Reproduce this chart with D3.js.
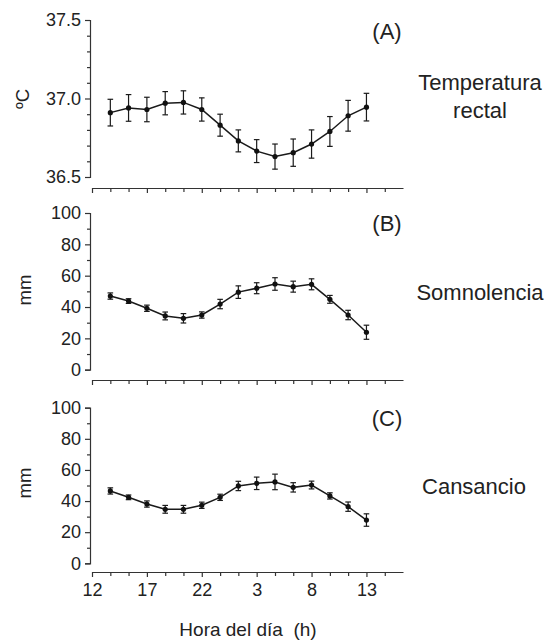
<!DOCTYPE html>
<html><head><meta charset="utf-8">
<script src="https://cdn.jsdelivr.net/npm/d3@7"></script>
<style>
body{margin:0;background:#fff;}
text{font-family:"Liberation Sans",Arial,sans-serif;fill:#222;}
</style></head>
<body><svg id="c" width="550" height="640"></svg>
<script>
// Data
const hours = [13.67, 15.33, 17, 18.67, 20.33, 22, 23.67, 25.33, 27, 28.67, 30.33, 32, 33.67, 35.33, 37];
const tempMean = [36.91, 36.94, 36.93, 36.97, 36.975, 36.93, 36.83, 36.73, 36.665, 36.63, 36.655, 36.71, 36.79, 36.89, 36.945];
const tempErr  = [0.085, 0.085, 0.078, 0.074, 0.074, 0.074, 0.07, 0.07, 0.073, 0.08, 0.087, 0.09, 0.095, 0.098, 0.088];
const somnMean = [47.0, 43.8, 39.2, 34.3, 32.8, 34.9, 41.9, 49.5, 52.0, 54.7, 53.0, 54.5, 44.9, 34.9, 23.9];
const somnErr  = [2, 1.5, 2, 2.5, 3, 2, 3, 4, 3.5, 4, 3.5, 3.5, 2.5, 3, 4.5];
const cansMean = [46.5, 42.4, 38.1, 34.7, 34.7, 37.3, 42.4, 49.7, 51.4, 52.3, 48.8, 50.3, 43.3, 36.4, 27.8];
const cansErr  = [2, 1.5, 2, 2.5, 2.5, 2, 2, 3, 4, 5, 3, 2.5, 2, 3, 4];
const xMajorTicks = [12, 17, 22, 27, 32, 37];
const xTickLabels = ["12", "17", "22", "3", "8", "13"];
const xMinorTicks = [13.67, 15.33, 18.67, 20.33, 23.67, 25.33, 28.67, 30.33, 33.67, 35.33, 38.67];
const xDomain = [12, 40.33];
const panelLabels = ["(A)", "(B)", "(C)"];
const panelTitles = [["Temperatura", "rectal"], ["Somnolencia"], ["Cansancio"]];
const yLabels = ["ºC", "mm", "mm"];
const tempTicks = [36.5, 37.0, 37.5];
const tempMinor = [36.6, 36.7, 36.8, 36.9, 37.1, 37.2, 37.3, 37.4];
const mmTicks = [0, 20, 40, 60, 80, 100];
const mmMinor = [10, 30, 50, 70, 90];

const svg = d3.select("#c");
const axisColor = "#333";
const x = d3.scaleLinear().domain(xDomain).range([92, 403]);

const panels = [
  {mean: tempMean, err: tempErr, domain: [36.5, 37.5], range: [177, 20], ticks: tempTicks, minor: tempMinor, fmt: d3.format(".1f"), xAxisY: 188, showX: false,
   lab: {y: 39}, titleY: [90, 118], ylabY: 99},
  {mean: somnMean, err: somnErr, domain: [0, 100], range: [369.7, 213], ticks: mmTicks, minor: mmMinor, fmt: d3.format("d"), xAxisY: 380, showX: false,
   lab: {y: 230.5}, titleY: [300], ylabY: 290},
  {mean: cansMean, err: cansErr, domain: [0, 100], range: [563.3, 407.7], ticks: mmTicks, minor: mmMinor, fmt: d3.format("d"), xAxisY: 572, showX: true,
   lab: {y: 426}, titleY: [494], ylabY: 483}
];

function styleAxis(g){
  g.select(".domain").attr("stroke", axisColor).attr("stroke-width", 1.2);
  g.selectAll(".tick line").attr("stroke", axisColor).attr("stroke-width", 1.2);
  g.selectAll(".tick text").attr("fill", "#222").style("font-family", '"Liberation Sans",Arial,sans-serif').style("font-size", "18px");
}

panels.forEach((p, i) => {
  const y = d3.scaleLinear().domain(p.domain).range(p.range);
  // y axis
  const gy = svg.append("g").attr("transform", "translate(90,0)")
    .call(d3.axisLeft(y).tickValues(p.ticks).tickFormat(p.fmt).tickSize(5).tickPadding(4));
  styleAxis(gy);
  const gym = svg.append("g").attr("transform", "translate(90,0)")
    .call(d3.axisLeft(y).tickValues(p.minor).tickFormat("").tickSize(3).tickSizeOuter(0));
  gym.select(".domain").remove();
  styleAxis(gym);
  // x axis
  const gx = svg.append("g").attr("transform", `translate(0,${p.xAxisY})`)
    .call(d3.axisBottom(x).tickValues(xMajorTicks).tickFormat((d, k) => p.showX ? xTickLabels[k] : "").tickSize(5).tickSizeOuter(0).tickPadding(6));
  styleAxis(gx);
  const gxm = svg.append("g").attr("transform", `translate(0,${p.xAxisY})`)
    .call(d3.axisBottom(x).tickValues(xMinorTicks).tickFormat("").tickSize(4).tickSizeOuter(0));
  gxm.select(".domain").remove();
  styleAxis(gxm);

  // data
  const data = hours.map((h, k) => ({h, m: p.mean[k], e: p.err[k]}));
  const g = svg.append("g");
  g.append("path").datum(data)
    .attr("fill", "none").attr("stroke", "#1a1a1a").attr("stroke-width", 1.5)
    .attr("d", d3.line().x(d => x(d.h)).y(d => y(d.m)));
  const eb = g.selectAll(".eb").data(data).enter().append("g");
  eb.append("line").attr("x1", d => x(d.h)).attr("x2", d => x(d.h))
    .attr("y1", d => y(d.m - d.e)).attr("y2", d => y(d.m + d.e))
    .attr("stroke", "#1a1a1a").attr("stroke-width", 1.2);
  [-1, 1].forEach(s => {
    eb.append("line").attr("x1", d => x(d.h) - 2.8).attr("x2", d => x(d.h) + 2.8)
      .attr("y1", d => y(d.m + s * d.e)).attr("y2", d => y(d.m + s * d.e))
      .attr("stroke", "#1a1a1a").attr("stroke-width", 1.2);
  });
  eb.append("circle").attr("cx", d => x(d.h)).attr("cy", d => y(d.m)).attr("r", 2.6).attr("fill", "#111");

  // labels
  svg.append("text").attr("x", 387).attr("y", p.lab.y).attr("text-anchor", "middle")
    .style("font-size", "22px").text(panelLabels[i]);
  panelTitles[i].forEach((t, k) => {
    svg.append("text").attr("x", i === 2 ? 474 : 480).attr("y", p.titleY[k]).attr("text-anchor", "middle")
      .style("font-size", "22px").text(t);
  });
  svg.append("text").attr("transform", `translate(${i === 0 ? 29 : 31},${p.ylabY}) rotate(-90)`)
    .attr("text-anchor", "middle").style("font-size", "18.5px").text(yLabels[i]);
});

svg.append("text").attr("x", 248).attr("y", 636).attr("text-anchor", "middle")
  .style("font-size", "19px").style("white-space", "pre").attr("xml:space", "preserve").text("Hora del día  (h)");
</script></body></html>
